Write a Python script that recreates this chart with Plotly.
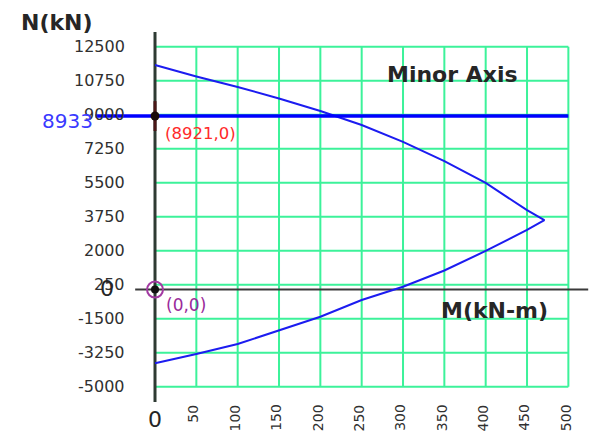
import plotly.graph_objects as go

# P-M interaction curve about the minor axis (M in kN-m, N in kN)
m_upper = [0, 50, 100, 150, 200, 250, 300, 350, 400, 450, 471]
n_upper = [11560, 10970, 10430, 9840, 9190, 8470, 7600, 6610, 5490, 4090, 3580]
m_lower = [471, 450, 400, 350, 300, 250, 200, 150, 100, 50, 0]
n_lower = [3580, 3070, 1990, 985, 150, -535, -1395, -2080, -2800, -3315, -3793]

# axis ticks
n_ticks = [12500, 10750, 9000, 7250, 5500, 3750, 2000, 250, -1500, -3250, -5000]
n_tick_text = ["12500", "10750", "9000", "7250", "5500", "3750", "2000", "250",
               "-1500", "-3250", "-5000"]
m_ticks = [50, 100, 150, 200, 250, 300, 350, 400, 450, 500]
m_tick_text = ["50", "100", "150", "200", "250", "300", "350", "400", "450", "500"]

# design load line and reference points
n_design = 8933
design_point = (0, 8921)
origin = (0, 0)

FONT = "DejaVu Sans"
GRID = "#3cf29a"
TEXT = "#262626"

m_min, m_max = 0, 500
n_min, n_max = -5000, 12500

fig = go.Figure()
shapes = []

# green grid
for m in m_ticks:
    shapes.append(dict(type="line", xref="x", yref="y", x0=m, x1=m, y0=n_min, y1=n_max,
                       line=dict(color=GRID, width=2), layer="below"))
for n in n_ticks:
    shapes.append(dict(type="line", xref="x", yref="y", x0=m_min, x1=m_max, y0=n, y1=n,
                       line=dict(color=GRID, width=2), layer="below"))

# main axes
shapes.append(dict(type="line", xref="x", yref="y", x0=0, x1=0, y0=-5790, y1=13260,
                   line=dict(color="#2e3a33", width=3), layer="below"))
shapes.append(dict(type="line", xref="x", yref="y", x0=-24, x1=524, y0=0, y1=0,
                   line=dict(color="#3a3a3a", width=2), layer="below"))
# marker tick on the N axis around the design point
shapes.append(dict(type="line", xref="x", yref="y", x0=0, x1=0, y0=8160, y1=9700,
                   line=dict(color="#4a1616", width=3), layer="below"))

fig.update_layout(shapes=shapes)

# interaction curve
fig.add_trace(go.Scatter(x=m_upper + m_lower[1:], y=n_upper + n_lower[1:], mode="lines",
                         line=dict(color="#1c1cf0", width=2), hoverinfo="skip"))

# design axial load line
fig.add_trace(go.Scatter(x=[-72, m_max], y=[n_design, n_design], mode="lines",
                         line=dict(color="#0000ff", width=3.5), hoverinfo="skip"))

# points
fig.add_trace(go.Scatter(x=[design_point[0]], y=[n_design], mode="markers",
                         marker=dict(color="#1a0a0a", size=9), hoverinfo="skip"))
fig.add_trace(go.Scatter(x=[origin[0]], y=[origin[1]], mode="markers",
                         marker=dict(color="rgba(0,0,0,0)", size=16,
                                     line=dict(color="#a23aa2", width=2)),
                         hoverinfo="skip"))
fig.add_trace(go.Scatter(x=[origin[0]], y=[origin[1]], mode="markers",
                         marker=dict(color="#111111", size=8), hoverinfo="skip"))

ann = []
for n, t in zip(n_ticks, n_tick_text):
    ann.append(dict(x=-34, y=n, text=t, xanchor="right", yanchor="middle",
                    font=dict(family=FONT, size=16, color="#303030")))
for m, t in zip(m_ticks, m_tick_text):
    ann.append(dict(x=m - 3.5, y=-5795, text=t, textangle=-90,
                    xanchor="center", yanchor="top",
                    font=dict(family=FONT, size=14, color="#303030")))

ann += [
    dict(x=-119, y=13770, text="<b>N(kN)</b>", xanchor="center", yanchor="middle",
         font=dict(family=FONT, size=22, color=TEXT)),
    dict(x=-106, y=8700, text=str(n_design), xanchor="center", yanchor="middle",
         font=dict(family=FONT, size=20, color="#3a3aff")),
    dict(x=-58, y=80, text="0", xanchor="center", yanchor="middle",
         font=dict(family=FONT, size=22, color=TEXT)),
    dict(x=0, y=-6700, text="0", xanchor="center", yanchor="middle",
         font=dict(family=FONT, size=22, color=TEXT)),
    dict(x=10, y=8060, text="(%d,%d)" % (design_point[1], design_point[0]),
         xanchor="left", yanchor="middle", font=dict(family=FONT, size=16.5, color="#ff2a2a")),
    dict(x=11, y=-800, text="(%d,%d)" % origin, xanchor="left", yanchor="middle",
         font=dict(family=FONT, size=17, color="#9a2a9a")),
    dict(x=278, y=11050, text="<b>Minor Axis</b>", xanchor="left", yanchor="middle",
         font=dict(family=FONT, size=22, color=TEXT)),
    dict(x=344, y=-1050, text="<b>M(kN-m)</b>", xanchor="left", yanchor="middle",
         font=dict(family=FONT, size=22, color=TEXT)),
]
for a in ann:
    a.update(xref="x", yref="y", showarrow=False)

fig.update_layout(
    annotations=ann,
    width=592, height=431, autosize=False,
    margin=dict(l=0, r=0, t=0, b=0),
    paper_bgcolor="white", plot_bgcolor="white",
    showlegend=False,
    xaxis=dict(range=[-187.5, 528.6], visible=False, fixedrange=True),
    yaxis=dict(range=[-7278, 14906], visible=False, fixedrange=True),
)

fig.write_html("out.html", config={"displayModeBar": False})
